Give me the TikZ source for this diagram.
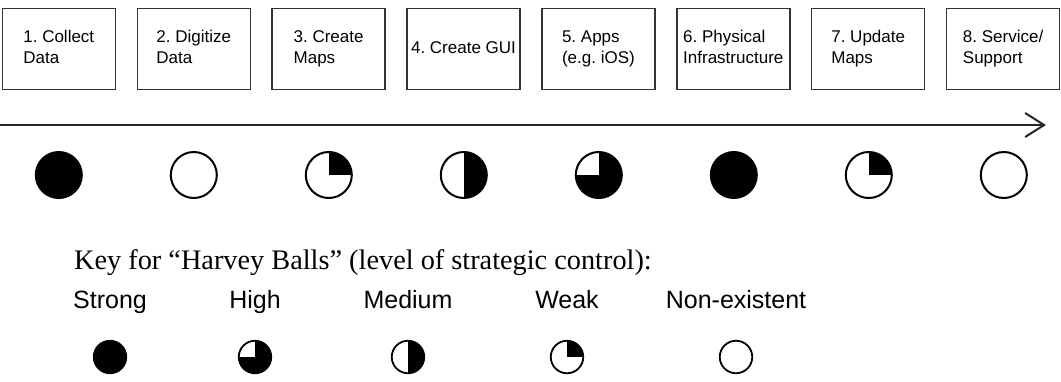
\documentclass[tikz,border=0pt]{standalone}
\usepackage{fontspec}
\newfontfamily\labelfont{Liberation Sans}
\newfontfamily\keyfont{Liberation Serif}
\usetikzlibrary{arrows.meta}
\frenchspacing
\begin{document}
\begin{tikzpicture}[x=1pt,y=-1pt,
  stepbox/.style={draw=black!80, line width=1.4pt, minimum width=113pt,
    minimum height=81pt, inner sep=0pt, align=left,
    font=\labelfont\fontsize{17}{21}\selectfont},
  hball/.style={circle, draw=black, line width=2pt, minimum size=#1, inner sep=0pt},
  hbnone/.style={fill=white},
  hbfull/.style={fill=black},
  hbquarter/.style={fill=white, path picture={
    \fill[black] (path picture bounding box.center) rectangle (path picture bounding box.north east);}},
  hbhalf/.style={fill=white, path picture={
    \fill[black] (path picture bounding box.south) rectangle (path picture bounding box.north east);}},
  hbthree/.style={fill=white, path picture={
    \fill[black] (path picture bounding box.south west) rectangle (path picture bounding box.east);
    \fill[black] (path picture bounding box.center) rectangle (path picture bounding box.north east);}},
  timeline/.style={draw=black!85, line width=2pt,
    -{Straight Barb[length=19pt, width=24pt, line width=2pt]}},
  keylabel/.style={anchor=base, inner sep=0pt, font=\labelfont\fontsize{25}{30}\selectfont},
]
\useasboundingbox (0,0) rectangle (1061,381);

% value-chain steps
\foreach \i/\t in {1/{1. Collect\\Data}, 2/{2. Digitize\\Data}, 3/{3. Create\\Maps},
                   4/{4. Create GUI}, 5/{5. Apps\\(e.g. iOS)}, 6/{6. Physical\\Infrastructure},
                   7/{7. Update\\Maps}, 8/{8. Service/\\Support}}
  \node[stepbox] (s\i) at ({58.8+(\i-1)*134.9}, 49) {\strut\t\strut};

% time arrow
\coordinate (tstart) at (0,125);
\coordinate (tend) at (1046,125);
\draw[timeline] (tstart) -- (tend);

% control level per step
\foreach \i/\k in {1/hbfull, 2/hbnone, 3/hbquarter, 4/hbhalf, 5/hbthree, 6/hbfull, 7/hbquarter, 8/hbnone}
  \node[hball=46pt, \k] (b\i) at ({58.8+(\i-1)*135}, 175) {};

% key
\node[anchor=base west, inner sep=0pt, font=\keyfont\fontsize{28.3}{34}\selectfont]
  (keytitle) at (74,269) {Key for “Harvey Balls” (level of strategic control):};

\foreach \i/\x/\t/\k in {1/110/Strong/hbfull, 2/255/High/hbthree, 3/408/Medium/hbhalf,
                         4/567/Weak/hbquarter, 5/736/Non-existent/hbnone} {
  \node[keylabel] (kl\i) at (\x, 308) {\t};
  \node[hball=32.5pt, line width=1.8pt, \k] (kb\i) at (\x, 357) {};
}
\end{tikzpicture}
\end{document}
